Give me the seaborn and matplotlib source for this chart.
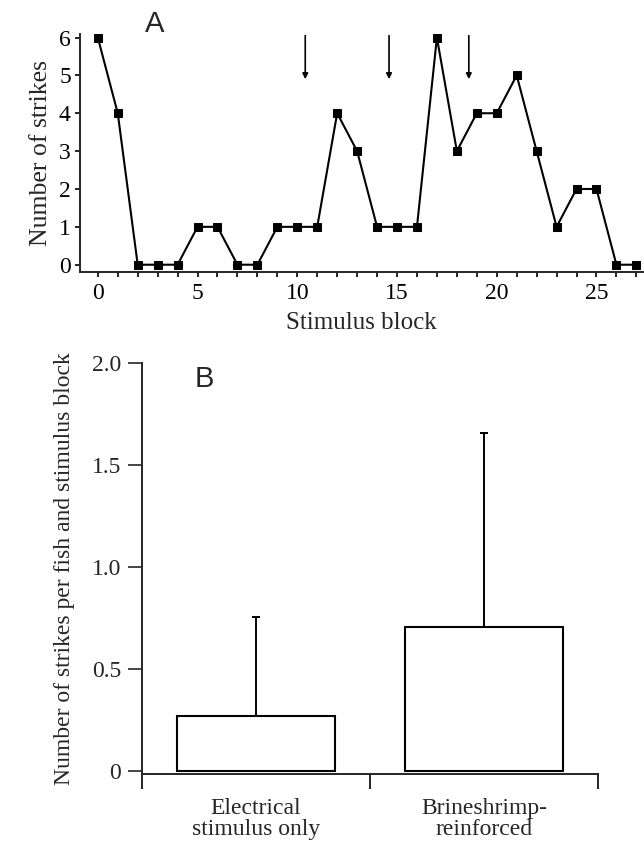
import matplotlib
matplotlib.use("Agg")
import matplotlib.pyplot as plt
import seaborn as sns
import pandas as pd
from matplotlib.ticker import MultipleLocator

# Panel A data
blocks = list(range(28))
strikes = [6, 4, 0, 0, 0, 1, 1, 0, 0, 1, 1, 1, 4, 3, 1, 1, 1, 6, 3, 4, 4, 5, 3, 1, 2, 2, 0, 0]
arrow_x = [10.4, 14.6, 18.6]

# Panel B data
groups = ["Electrical\nstimulus only", "Brineshrimp-\nreinforced"]
means = [0.27, 0.705]
upper = [0.755, 1.655]

sns.set_style("ticks")
plt.rcParams['font.family'] = ['Liberation Serif', 'DejaVu Serif']
plt.rcParams['axes.linewidth'] = 1.4

fig = plt.figure(figsize=(6.44, 8.43), dpi=100)

# ---- Panel A ----
axA = fig.add_axes([0.124, 0.677, 0.875, 0.283])
dfA = pd.DataFrame({"block": blocks, "strikes": strikes})
sns.lineplot(data=dfA, x="block", y="strikes", ax=axA, color="black",
             marker="s", markersize=6, linewidth=1.5, markeredgecolor="black")
axA.set_xlim(-0.9, 27.35)
axA.set_ylim(-0.2, 6.1)
axA.xaxis.set_major_locator(MultipleLocator(5))
axA.xaxis.set_minor_locator(MultipleLocator(1))
axA.set_yticks(range(7))
axA.tick_params(axis="both", which="both", direction="out", length=3.5, width=1.2,
                labelsize=17, colors="black")
axA.tick_params(axis="x", pad=4)
axA.tick_params(axis="y", pad=3)
for s in ["top", "right"]:
    axA.spines[s].set_visible(False)
axA.set_xlabel("Stimulus block", fontsize=18, labelpad=6)
axA.set_ylabel("Number of strikes", fontsize=18.5, labelpad=5)
for xa in arrow_x:
    axA.annotate("", xy=(xa, 4.9), xytext=(xa, 6.05),
                 arrowprops=dict(arrowstyle="-|>", color="black", lw=1.2,
                                 mutation_scale=8, shrinkA=0, shrinkB=0))
fig.text(155 / 644, 1 - 24 / 843, "A", family="Liberation Sans", fontsize=21,
         ha="center", va="center")

# ---- Panel B ----
axB = fig.add_axes([0.2205, 0.0819, 0.708, 0.4875])
dfB = pd.DataFrame({"group": groups, "mean": means})
sns.barplot(data=dfB, x="group", y="mean", ax=axB, color="white",
            edgecolor="black", linewidth=1.5, width=0.69, errorbar=None)
errs = [u - m for u, m in zip(upper, means)]
axB.errorbar(range(len(groups)), means, yerr=[[0] * len(errs), errs], fmt="none",
             ecolor="black", elinewidth=1.4, capsize=3, capthick=1.4)
axB.set_xlim(-0.5, 1.5)
axB.set_ylim(-0.015, 2.0)
axB.set_yticks([0, 0.5, 1.0, 1.5, 2.0])
axB.set_yticklabels(["0", "0.5", "1.0", "1.5", "2.0"])
axB.set_xticks([0, 1])
axB.set_xticklabels(groups, linespacing=1.05)
axB.tick_params(axis="x", length=0, labelsize=17, pad=17)
axB.set_xticks([-0.5, 0.5, 1.5], minor=True)
axB.tick_params(axis="x", which="minor", direction="out", length=10.5, width=1.4)
axB.tick_params(axis="y", direction="out", length=10, width=1.2, labelsize=17, pad=5)
for s in ["top", "right"]:
    axB.spines[s].set_visible(False)
axB.set_xlabel("")
axB.set_ylabel("Number of strikes per fish and stimulus block", fontsize=17, labelpad=12)
fig.text(204 / 644, 1 - 379 / 843, "B", family="Liberation Sans", fontsize=21,
         ha="center", va="center")

fig.savefig("out.png", dpi=100)
